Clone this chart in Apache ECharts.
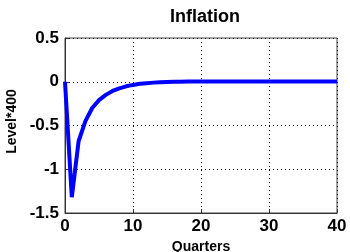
<!DOCTYPE html>
<html><head><meta charset="utf-8">
<script src="https://cdn.jsdelivr.net/npm/echarts@6/dist/echarts.min.js"></script>
<style>html,body{margin:0;padding:0;background:#fff}#c{width:350px;height:252px}</style>
</head><body><div id="c"></div>
<script>
const quarters = [0,1,2,3,4,5,6,7,8,9,10,11,12,13,14,15,16,17,18,19,20,21,22,23,24,25,26,27,28,29,30,31,32,33,34,35,36,37,38,39,40];
const inflation = [0,-1.32,-0.68,-0.45,-0.3,-0.21,-0.15,-0.105,-0.075,-0.052,-0.036,-0.024,-0.016,-0.01,-0.006,-0.003,-0.001,0,0.002,0.003,0.004,0.004,0.004,0.004,0.004,0.004,0.004,0.004,0.004,0.004,0.004,0.004,0.004,0.004,0.004,0.004,0.004,0.004,0.004,0.004,0.004];
const title = 'Inflation';
const xName = 'Quarters';
const yName = 'Level*400';

const chart = echarts.init(document.getElementById('c'), null, {renderer:'canvas'});
const font = 'Liberation Sans, Arial, sans-serif';
chart.setOption({
  animation:false,
  title:{text:title,left:200,top:3,textAlign:'center',textStyle:{fontFamily:font,fontWeight:'bold',fontSize:18,color:'#000'}},
  grid:{left:65,right:13,top:38,bottom:39,show:true,borderColor:'#444',borderWidth:1,backgroundColor:'#fff',outerBoundsMode:'none',containLabel:false},
  xAxis:{type:'value',min:0,max:40,interval:10,name:xName,nameLocation:'middle',nameGap:27,
    nameTextStyle:{fontFamily:font,fontWeight:'bold',fontSize:14,color:'#000'},
    axisLine:{show:true,onZero:false,lineStyle:{color:'#333'}},
    axisTick:{show:true,inside:true,length:4,lineStyle:{color:'#333'}},
    axisLabel:{fontFamily:font,fontWeight:'bold',fontSize:17,color:'#000',margin:5},
    splitLine:{show:true,lineStyle:{color:'#000',type:[1,3],width:1}}},
  yAxis:{type:'value',min:-1.5,max:0.5,interval:0.5,name:yName,nameLocation:'middle',nameGap:46,nameRotate:90,
    nameTextStyle:{fontFamily:font,fontWeight:'bold',fontSize:14,color:'#000',padding:[0,0,0,8]},
    axisLine:{show:true,lineStyle:{color:'#333'}},
    axisTick:{show:true,inside:true,length:4,lineStyle:{color:'#333'}},
    axisLabel:{fontFamily:font,fontWeight:'bold',fontSize:17,color:'#000',margin:6},
    splitLine:{show:true,lineStyle:{color:'#000',type:[1,3],width:1}}},
  series:[{type:'line',data:quarters.map((q,i)=>[q,inflation[i]]),showSymbol:false,
    lineStyle:{color:'#0000ff',width:4},itemStyle:{color:'#0000ff'}}]
});
</script></body></html>
